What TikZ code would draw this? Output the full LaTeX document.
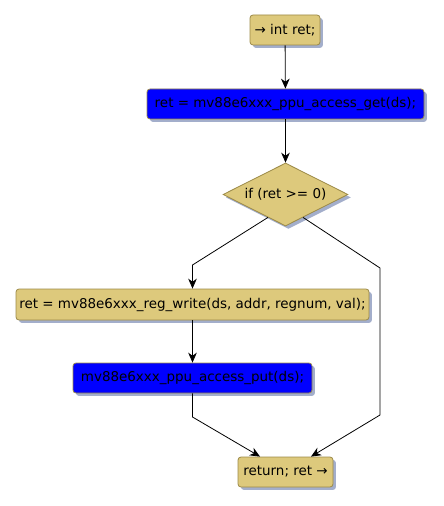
\documentclass[tikz,border=0pt]{standalone}
\usepackage{fontspec}
\setmainfont{DejaVu Sans}
\usetikzlibrary{shapes.geometric,shadows,arrows.meta,calc}
\definecolor{tan}{HTML}{DDC97C}
\definecolor{tanborder}{HTML}{9C8A48}
\definecolor{shadowc}{HTML}{A3AECB}
\tikzset{
  box/.style={rectangle, rounded corners=2.25pt, draw=tanborder, line width=0.6pt, fill=tan, inner sep=1pt,
    font=\fontsize{10.1}{12}\selectfont, text=black,
    drop shadow={shadow xshift=2.2pt, shadow yshift=-2.2pt, fill=shadowc, opacity=1}},
  bluebox/.style={box, fill=blue},
  cond/.style={diamond, draw=tanborder, line width=0.6pt, fill=tan, inner sep=0pt, aspect=2,
    font=\fontsize{10.1}{12}\selectfont,
    drop shadow={shadow xshift=2.2pt, shadow yshift=-2.2pt, fill=shadowc, opacity=1}},
  conn/.style={draw=black, line width=0.6pt, -{Stealth[length=7.5pt,width=6.5pt,inset=2.4pt]}}
}
\begin{document}
\begin{tikzpicture}[x=0.75pt,y=-0.75pt]
\useasboundingbox (0,0) rectangle (443,506);
\node[box, minimum width=52.5pt, minimum height=22.5pt] (n1) at (285,30) {→ int ret;};
\node[bluebox, minimum width=207.75pt, minimum height=22.5pt] (n2) at (285.5,104) {ret = mv88e6xxx\_ppu\_access\_get(ds);};
\node[cond, minimum width=93.75pt, minimum height=47.25pt] (d) at (285.5,194.5) {if (ret >= 0)};
\node[box, minimum width=264.75pt, minimum height=23.25pt] (n3) at (192.5,304.5) {ret = mv88e6xxx\_reg\_write(ds, addr, regnum, val);};
\node[bluebox, minimum width=179.25pt, minimum height=22.5pt] (n4) at (192.5,378) {mv88e6xxx\_ppu\_access\_put(ds);};
\node[box, minimum width=71.25pt, minimum height=22.5pt] (n5) at (285.5,472) {return; ret →};
\coordinate (dl) at ($(d.south)!0.28!(d.west)$);
\coordinate (dr) at ($(d.south)!0.28!(d.east)$);
\coordinate (b1) at (192.5,265);
\coordinate (b2) at (380,268);
\coordinate (b3) at (380,415);
\coordinate (b4) at (192.5,417);
\draw[conn] (n1) -- (n2);
\draw[conn] (n2) -- (d);
\draw[conn] (dl) -- (b1) -- (n3.north);
\draw[conn] (n3) -- (n4);
\draw[conn] (dr) -- (b2) -- (b3) -- ($(n5.north)+(25.5,0)$);
\draw[conn] (n4.south) -- (b4) -- ($(n5.north)+(-25.5,0)$);
\end{tikzpicture}
\end{document}
